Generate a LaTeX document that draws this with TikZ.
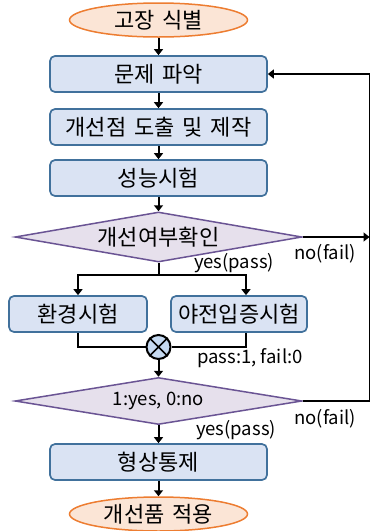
\documentclass[tikz,border=0pt]{standalone}
\usepackage{fontspec}
\setmainfont{Noto Sans CJK KR}
\newfontfamily\korfont{Noto Sans CJK KR}[Scale=1.19,WordSpace=1.6]
\usetikzlibrary{shapes.geometric,arrows.meta}
\definecolor{boxFill}{HTML}{DAE3F3}
\definecolor{boxLine}{HTML}{41719C}
\definecolor{termFill}{HTML}{FBE5D6}
\definecolor{termLine}{HTML}{ED7D31}
\definecolor{diaFill}{HTML}{E6E0EC}
\definecolor{diaLine}{HTML}{6A5494}
\definecolor{mixFill}{HTML}{C5D9F1}

\begin{document}
\begin{tikzpicture}
[x=1pt,y=-1pt,font=\fontsize{18.5}{22}\selectfont,
  termDecorate/.style={shape=ellipse,draw=termLine,fill=termFill,line width=1.5pt,
    minimum width=178pt,minimum height=34pt,inner sep=0pt,font=\fontsize{18.5}{22}\selectfont\korfont},
  boxDecorate/.style={shape=rectangle,rounded corners=5pt,draw=boxLine,fill=boxFill,line width=1.7pt,
    minimum height=36pt,inner sep=0pt,font=\fontsize{18.5}{22}\selectfont\korfont},
  diaDecorate/.style={shape=diamond,draw=diaLine,fill=diaFill,line width=1.5pt,shape aspect=5.7,
    minimum width=287pt,minimum height=50pt,inner sep=0pt},
  lineDecorate/.style={-{Triangle[length=6pt,width=9pt]},line width=2pt},
  joinDecorate/.style={-,line width=2pt}]
\useasboundingbox (0,0) rectangle (370,531);
%% nodes or vertices
\foreach \nodename/\x/\y/\txt in {
  find/158.5/20/{고장 식별},
  apply/158.5/514/{개선품 적용}}
{
  \node (\nodename) at (\x,\y) [termDecorate] {\txt};
}
\foreach \nodename/\x/\y/\w/\txt in {
  grasp/158.5/74/217/{문제 파악},
  improve/158.5/127/217/{개선점 도출 및 제작},
  perform/158.5/178/217/{성능시험},
  envtest/78/314/138/{환경시험},
  fieldtest/239/314/136/{야전입증시험},
  config/158.5/462/217/{형상통제}}
{
  \node (\nodename) at (\x,\y) [boxDecorate,minimum width=\w pt] {\txt};
}
\node (check) at (158.5,237) [diaDecorate,font=\fontsize{18.5}{22}\selectfont\korfont] {개선여부확인};
\node (decide) at (158.5,401) [diaDecorate,minimum height=47pt] {1:yes, 0:no};
\node (mix) at (158.5,347) [shape=circle,draw,fill=mixFill,line width=2pt,minimum size=24pt,inner sep=0pt] {};
\draw[line width=1.5pt] (mix.north west) -- (mix.south east) (mix.north east) -- (mix.south west);
\coordinate (split) at (158.5,275);
\coordinate (loopTop) at (369.5,74);
\coordinate (loopMid) at (369.5,237);
\coordinate (loopBot) at (369.5,401);
%% labels
\node (yes1) at (234,263) {yes(pass)};
\node (no1) at (325,254) {no(fail)};
\node (code) at (250,358) {pass:1, fail:0};
\node (no2) at (325,419) {no(fail)};
\node (yes2) at (236,430) {yes(pass)};
%% edges or lines
\path
\foreach \startnode/\endnode in {
  find/grasp, grasp/improve, improve/perform, perform/check,
  mix/decide, decide/config, config/apply, check/loopMid}
{
  (\startnode) edge[lineDecorate] (\endnode)
};
\draw[joinDecorate] (check) -- (split);
\draw[lineDecorate] (split) -| (envtest);
\draw[lineDecorate] (split) -| ([xshift=7pt]fieldtest.north);
\draw[joinDecorate] (envtest) |- (mix);
\draw[joinDecorate] ([xshift=7pt]fieldtest.south) |- (mix);
\draw[lineDecorate] (decide) -- (loopBot) -- (loopTop) -- (grasp);
\end{tikzpicture}
\end{document}
